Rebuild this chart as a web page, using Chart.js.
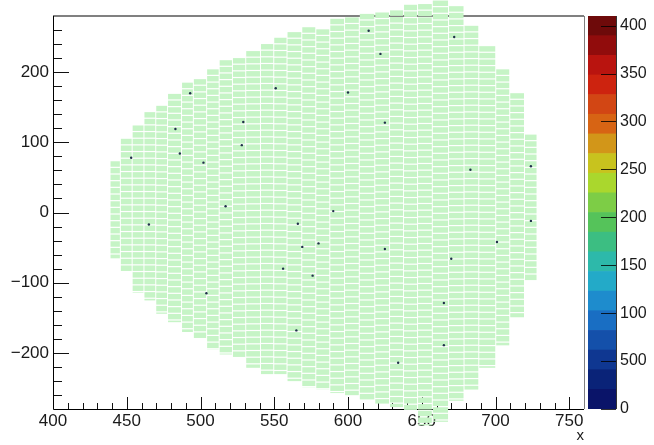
<!DOCTYPE html>
<html lang="en">
<head>
    <meta charset="UTF-8">
    <title>hist2d</title>
    <script src="https://cdn.jsdelivr.net/npm/chart.js"></script>
    <style>
        html, body { margin: 0; padding: 0; background: #ffffff; }
        #wrap { position: relative; width: 654px; height: 445px; }
        #wrap canvas { position: absolute; left: 0; top: 0; }
    </style>
</head>
<body>
<div id="wrap">
    <canvas id="hist" width="654" height="445"></canvas>
    <canvas id="zbar" width="654" height="445"></canvas>
</div>
<script>
// column edges in x (one more entry than columns)
const colEdges = [439, 446, 454, 462, 470, 478, 487.5, 495.5, 504.5, 513, 522, 531, 541, 550, 559, 569,
    578.5, 588, 598, 608, 618.5, 628.5, 638, 647.5, 657.5, 668.5, 679, 689, 700.5, 710, 720, 728.5];
// upper / lower y edge of every column
const colTop = [73, 105, 124, 143, 152, 169, 185, 190, 204, 217, 220, 230, 240, 249, 257, 264,
    261, 276, 278, 283, 285, 288, 296, 297, 302, 294, 266, 237, 204, 170, 111];
const colBottom = [-67, -86, -116, -127, -146, -158, -172, -182, -197, -204, -208, -223, -232, -232, -242, -251,
    -254, -259, -262, -268, -274, -279, -283, -305, -300, -270, -254, -223, -191, -151, -99];

// the few darker bins
const dotX = [453, 483, 486, 493, 502, 529, 528, 551, 517, 465, 566, 569, 580, 556, 576, 504,
    565, 614, 622, 600, 625, 672, 683, 724, 590, 701, 625, 670, 665, 665, 634, 724];
const dotY = [78, 119, 84, 170, 71, 129, 96, 177, 9, -17, -16, -49, -44, -80, -90, -115,
    -168, 259, 226, 171, 128, 250, 61, 66, 2, -42, -52, -66, -129, -189, -214, -12];

const xTicks = [400, 450, 500, 550, 600, 650, 700, 750];
const yTicks = [-200, -100, 0, 100, 200];
const zTicks = [0, 50, 100, 150, 200, 250, 300, 350, 400];
const zLabels = ['0', '500', '100', '150', '200', '250', '300', '350', '400'];
const zMax = 410;

// palette, bottom to top
const palette = [
    'rgb(10,20,105)', 'rgb(10,35,120)', 'rgb(15,55,145)', 'rgb(20,80,170)', 'rgb(25,110,195)',
    'rgb(30,140,205)', 'rgb(35,170,200)', 'rgb(45,185,170)', 'rgb(60,190,130)', 'rgb(85,195,90)',
    'rgb(125,205,70)', 'rgb(170,215,45)', 'rgb(200,195,30)', 'rgb(210,150,25)', 'rgb(215,100,20)',
    'rgb(210,70,20)', 'rgb(205,35,15)', 'rgb(185,20,15)', 'rgb(145,12,12)', 'rgb(110,10,10)'
];

const cellColor = '#c6f4c6';
const rowPitch = 9.5;
const txtColor = '#1a1a1a';
Chart.defaults.font.family = "'Liberation Sans', Arial, sans-serif";

// frame, inward ticks, then the bins (drawn over frame like ROOT does)
const frameAndCells = {
    id: 'frameAndCells',
    beforeDatasetsDraw(chart) {
        const { ctx, chartArea: a, scales: { x, y } } = chart;
        ctx.save();
        ctx.lineWidth = 1;
        ctx.strokeStyle = '#111';
        ctx.beginPath();
        for (let v = 410; v < 760; v += 10) {
            const px = Math.round(x.getPixelForValue(v)) + 0.5;
            const len = v % 50 === 0 ? 12 : 6;
            ctx.moveTo(px, a.bottom);
            ctx.lineTo(px, a.bottom - len);
        }
        for (let v = -260; v < 280; v += 20) {
            const py = Math.round(y.getPixelForValue(v)) + 0.5;
            const len = v % 100 === 0 ? 16 : 9;
            ctx.moveTo(a.left, py);
            ctx.lineTo(a.left + len, py);
        }
        ctx.stroke();

        // frame
        ctx.strokeStyle = '#808080';
        ctx.lineWidth = 2;
        ctx.beginPath();
        ctx.moveTo(a.left, a.top);
        ctx.lineTo(a.right, a.top);
        ctx.stroke();
        ctx.lineWidth = 1;
        ctx.beginPath();
        ctx.moveTo(a.right + 0.5, a.top);
        ctx.lineTo(a.right + 0.5, a.bottom);
        ctx.stroke();
        ctx.strokeStyle = '#000';
        ctx.beginPath();
        ctx.moveTo(a.left + 0.5, a.top);
        ctx.lineTo(a.left + 0.5, a.bottom + 0.5);
        ctx.lineTo(a.right, a.bottom + 0.5);
        ctx.stroke();

        // bins
        ctx.fillStyle = cellColor;
        for (let i = 0; i < colTop.length; i++) {
            const x0 = x.getPixelForValue(colEdges[i]);
            const x1 = x.getPixelForValue(colEdges[i + 1]) - 1;
            for (let t = colTop[i]; t > colBottom[i]; t -= rowPitch) {
                const b = Math.max(t - rowPitch, colBottom[i]);
                const py0 = y.getPixelForValue(t);
                const py1 = y.getPixelForValue(b) - 1.2;
                if (py1 > py0) ctx.fillRect(x0, py0, x1 - x0, py1 - py0);
            }
        }
        ctx.restore();
    }
};

new Chart(document.getElementById('hist'), {
    type: 'scatter',
    data: {
        datasets: [{
            data: dotX.map((v, i) => ({ x: v, y: dotY[i] })),
            pointRadius: 1.2,
            pointBorderWidth: 0,
            pointBackgroundColor: '#1f2f4a'
        }]
    },
    options: {
        responsive: false,
        animation: false,
        devicePixelRatio: 1,
        layout: { padding: { top: 16, right: 70, left: 0, bottom: 0 } },
        plugins: { legend: { display: false }, tooltip: { enabled: false } },
        scales: {
            x: {
                type: 'linear',
                min: 400,
                max: 760,
                afterBuildTicks: s => { s.ticks = xTicks.map(v => ({ value: v })); },
                afterFit: s => { s.height = 36; },
                grid: { display: false, drawTicks: false },
                border: { display: false },
                ticks: { color: txtColor, font: { size: 17 }, padding: 2, maxRotation: 0, autoSkip: false },
                title: { display: true, text: 'x', align: 'end', color: txtColor, font: { size: 15 }, padding: 0 }
            },
            y: {
                type: 'linear',
                min: -280,
                max: 280,
                afterBuildTicks: s => { s.ticks = yTicks.map(v => ({ value: v })); },
                afterFit: s => { s.width = 53; },
                grid: { display: false, drawTicks: false },
                border: { display: false },
                ticks: {
                    color: txtColor,
                    font: { size: 17 },
                    padding: 4,
                    callback: v => v < 0 ? '\u2212' + Math.abs(v) : String(v)
                }
            }
        }
    },
    plugins: [frameAndCells]
});

// colour scale ticks
const zTickMarks = {
    id: 'zTickMarks',
    afterDatasetsDraw(chart) {
        const { ctx, chartArea: a, scales: { y } } = chart;
        ctx.save();
        ctx.strokeStyle = 'rgba(0,0,0,0.8)';
        ctx.lineWidth = 1;
        ctx.beginPath();
        zTicks.forEach(v => {
            const py = Math.round(y.getPixelForValue(v)) + 0.5;
            ctx.moveTo(a.right - 15, py);
            ctx.lineTo(a.right, py);
        });
        ctx.moveTo(a.right + 0.5, a.top);
        ctx.lineTo(a.right + 0.5, a.bottom);
        ctx.stroke();
        ctx.restore();
    }
};

new Chart(document.getElementById('zbar'), {
    type: 'bar',
    data: {
        labels: [''],
        datasets: palette.map(c => ({
            data: [zMax / palette.length],
            backgroundColor: c,
            borderWidth: 0,
            barPercentage: 1,
            categoryPercentage: 1
        }))
    },
    options: {
        responsive: false,
        animation: false,
        devicePixelRatio: 1,
        layout: { padding: { left: 588, top: 16, bottom: 36, right: 0 } },
        plugins: { legend: { display: false }, tooltip: { enabled: false } },
        scales: {
            x: { display: false, stacked: true },
            y: {
                stacked: true,
                position: 'right',
                min: 0,
                max: zMax,
                afterBuildTicks: s => { s.ticks = zTicks.map(v => ({ value: v })); },
                afterFit: s => { s.width = 38; },
                grid: { display: false, drawTicks: false },
                border: { display: false },
                ticks: {
                    color: txtColor,
                    font: { size: 16 },
                    padding: 4,
                    callback: v => zLabels[zTicks.indexOf(v)]
                }
            }
        }
    },
    plugins: [zTickMarks]
});
</script>
</body>
</html>
